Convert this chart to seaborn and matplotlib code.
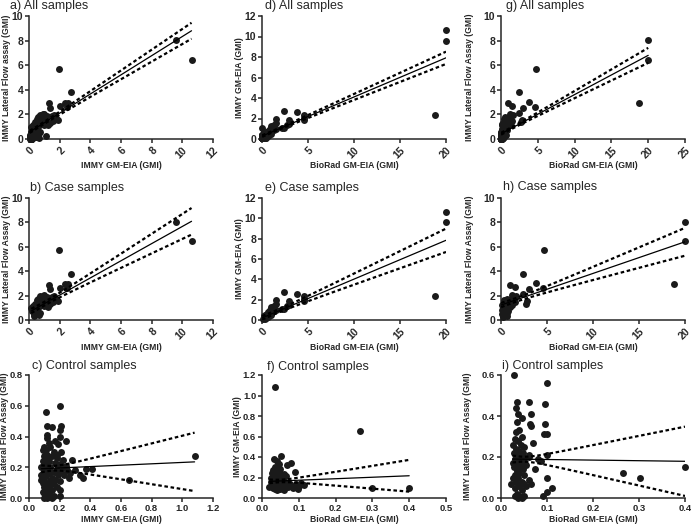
import numpy as np
import pandas as pd
import seaborn as sns
import matplotlib
matplotlib.use("Agg")
import matplotlib.pyplot as plt

# ---------------- data ----------------
# Case samples: IMMY GM-EIA (x) vs IMMY LFA (y)   -> panel b
case_immy_b = [9.6, 10.6, 1.95, 2.75, 1.3, 2.35, 2.55, 2.0, 1.4, 2.45,
               1.9, 1.5, 1.6, 1.2, 1.0, 0.9, 0.8, 0.7, 0.6, 1.35,
               1.25, 1.1, 0.9, 0.75, 0.55, 0.5, 0.45, 0.4, 0.35, 0.3,
               0.25, 0.3, 0.2, 0.15, 0.2, 0.35, 0.4, 0.5, 0.6, 0.7,
               0.65, 0.3, 0.4, 0.55, 0.8, 1.0, 0.25, 0.5, 1.55, 1.75]
case_lfa_b = [8.05, 6.45, 5.7, 3.8, 2.9, 2.95, 2.95, 2.65, 2.55, 2.6,
              1.55, 1.85, 1.95, 1.9, 2.05, 2.0, 1.9, 1.95, 1.75, 1.3,
              1.1, 1.6, 1.5, 1.45, 1.6, 1.3, 1.2, 1.35, 1.1, 0.9,
              0.8, 0.6, 0.7, 0.95, 1.0, 0.5, 0.7, 0.9, 1.0, 0.6,
              0.45, 0.3, 0.4, 0.75, 1.2, 1.15, 1.15, 0.55, 1.5, 1.7]

# Case samples: BioRad GM-EIA (x) vs IMMY GM-EIA (y) -> panel e
case_biorad_e = [20, 20, 18.8, 2.4, 3.8, 4.6, 4.6, 4.6, 2.9, 2.9,
                 2.7, 2.4, 2.2, 1.5, 1.5, 1.3, 1.0, 1.2, 1.1, 1.5,
                 0.8, 0.9, 0.6, 0.5, 0.4, 0.3, 0.2, 0.3, 0.5, 0.7,
                 0.4, 0.15, 0.25, 0.6, 0.8, 0.35, 1.0, 0.45, 0.2, 0.7,
                 1.3, 0.9]
case_immy_e = [10.6, 9.6, 2.35, 2.75, 2.6, 2.35, 2.05, 1.9, 1.9, 1.5,
               1.4, 1.1, 1.05, 2.0, 1.6, 1.4, 1.3, 1.2, 0.85, 0.95,
               0.75, 0.6, 0.5, 0.35, 0.3, 0.25, 0.2, 0.5, 0.6, 0.4,
               0.15, 0.1, 0.4, 0.3, 0.35, 0.05, 0.45, 0.5, 0.35, 0.8,
               0.9, 1.0]

# Case samples: BioRad GM-EIA (x) vs IMMY LFA (y) -> panel h
case_biorad_h = [20, 20, 18.8, 4.7, 2.4, 3.8, 4.6, 1.0, 1.5, 2.4,
                 3.0, 2.8, 2.7, 1.2, 1.4, 1.6, 1.5, 1.1, 0.6, 0.9,
                 0.8, 1.0, 0.5, 0.3, 0.2, 0.1, 0.3, 0.5, 0.7, 0.2,
                 0.4, 0.6, 0.1, 0.3, 0.7, 0.15, 0.5, 0.35, 0.25, 0.8,
                 1.2]
case_lfa_h = [8.05, 6.45, 2.95, 5.7, 3.8, 3.0, 2.6, 2.9, 2.7, 2.1,
              2.55, 1.55, 1.35, 2.05, 1.9, 1.95, 1.45, 1.7, 1.75, 1.6,
              1.35, 1.05, 1.2, 1.3, 1.1, 1.25, 0.95, 0.8, 1.0, 0.7,
              0.55, 0.6, 0.5, 0.4, 0.3, 0.85, 1.5, 1.65, 0.25, 0.75,
              1.25]

# Control samples: IMMY GM-EIA (x) vs IMMY LFA (y) -> panel c
ctrl_immy_c = [0.11, 0.115, 0.15, 0.2, 0.21, 0.2, 0.115, 0.12, 0.2, 0.17,
               0.24, 0.13, 0.1, 0.14, 0.19, 0.11, 0.09, 0.16, 0.21, 0.12,
               0.15, 0.1, 0.18, 0.22, 0.28, 0.09, 0.13, 0.17, 0.11, 0.2,
               0.24, 0.08, 0.14, 0.12, 0.18, 0.1, 0.16, 0.21, 0.25, 0.3,
               0.37, 0.41, 0.09, 0.13, 0.08, 0.19, 0.23, 0.27, 0.33, 0.11,
               0.15, 0.26, 0.35, 0.1, 0.14, 0.17, 0.2, 0.65, 0.09, 0.12,
               0.16, 0.13, 0.1, 0.18, 0.11, 0.15, 0.09, 0.12, 0.2, 0.1,
               0.14, 0.11, 0.13, 0.16, 0.2, 0.12, 0.15, 0.1, 1.08, 0.22,
               0.18, 0.1, 0.08, 0.12, 0.14]
ctrl_lfa_c = [0.56, 0.47, 0.46, 0.6, 0.47, 0.44, 0.41, 0.39, 0.40, 0.37,
              0.37, 0.36, 0.33, 0.33, 0.35, 0.31, 0.31, 0.30, 0.30, 0.28,
              0.27, 0.27, 0.26, 0.25, 0.25, 0.24, 0.24, 0.23, 0.22, 0.22,
              0.21, 0.2, 0.2, 0.19, 0.19, 0.18, 0.17, 0.17, 0.18, 0.18,
              0.19, 0.19, 0.16, 0.16, 0.15, 0.15, 0.15, 0.16, 0.15, 0.14,
              0.13, 0.13, 0.13, 0.12, 0.11, 0.12, 0.11, 0.12, 0.1, 0.09,
              0.09, 0.08, 0.07, 0.07, 0.06, 0.05, 0.04, 0.04, 0.05, 0.03,
              0.02, 0.01, 0.01, 0.01, 0.01, 0.0, 0.0, 0.0, 0.27, 0.2,
              0.28, 0.22, 0.12, 0.25, 0.17]

# Control samples: BioRad GM-EIA (x) vs IMMY GM-EIA (y) -> panel f
ctrl_biorad_f = [0.035, 0.265, 0.3, 0.4, 0.052, 0.033, 0.04, 0.078, 0.068, 0.045,
                 0.09, 0.05, 0.036, 0.03, 0.045, 0.04, 0.06, 0.03, 0.05, 0.035,
                 0.025, 0.042, 0.055, 0.065, 0.03, 0.04, 0.048, 0.035, 0.025, 0.06,
                 0.07, 0.045, 0.03, 0.04, 0.055, 0.025, 0.035, 0.05, 0.065, 0.03,
                 0.045, 0.02, 0.04, 0.055, 0.035, 0.05, 0.04, 0.06, 0.03, 0.075,
                 0.093, 0.107, 0.098, 0.085, 0.1, 0.115, 0.09, 0.07, 0.08, 0.028,
                 0.038, 0.045, 0.058, 0.033, 0.05]
ctrl_immy_f = [1.08, 0.65, 0.1, 0.1, 0.41, 0.38, 0.36, 0.34, 0.32, 0.33,
               0.25, 0.28, 0.3, 0.27, 0.26, 0.24, 0.23, 0.22, 0.22, 0.21,
               0.2, 0.2, 0.19, 0.21, 0.19, 0.18, 0.17, 0.17, 0.16, 0.16,
               0.15, 0.15, 0.14, 0.14, 0.13, 0.12, 0.12, 0.12, 0.12, 0.11,
               0.11, 0.11, 0.1, 0.1, 0.09, 0.09, 0.08, 0.08, 0.1, 0.14,
               0.14, 0.15, 0.09, 0.1, 0.12, 0.13, 0.11, 0.11, 0.12, 0.24,
               0.25, 0.19, 0.17, 0.15, 0.14]

# Control samples: BioRad GM-EIA (x) vs IMMY LFA (y) -> panel i
ctrl_biorad_i = [0.028, 0.099, 0.035, 0.06, 0.095, 0.032, 0.038, 0.065, 0.045, 0.035,
                 0.062, 0.095, 0.066, 0.04, 0.033, 0.093, 0.1, 0.045, 0.03, 0.038,
                 0.07, 0.025, 0.043, 0.05, 0.033, 0.04, 0.028, 0.048, 0.1, 0.035,
                 0.06, 0.042, 0.03, 0.08, 0.05, 0.038, 0.086, 0.025, 0.045, 0.032,
                 0.055, 0.04, 0.028, 0.073, 0.048, 0.035, 0.04, 0.03, 0.05, 0.025,
                 0.1, 0.038, 0.06, 0.045, 0.033, 0.022, 0.05, 0.04, 0.065, 0.03,
                 0.11, 0.045, 0.1, 0.035, 0.04, 0.03, 0.05, 0.092, 0.036, 0.045,
                 0.266, 0.302, 0.4, 0.055, 0.06]
ctrl_lfa_i = [0.6, 0.56, 0.47, 0.47, 0.46, 0.44, 0.41, 0.41, 0.39, 0.37,
              0.36, 0.36, 0.35, 0.33, 0.32, 0.31, 0.31, 0.3, 0.29, 0.28,
              0.27, 0.26, 0.26, 0.25, 0.24, 0.23, 0.22, 0.22, 0.21, 0.21,
              0.2, 0.2, 0.19, 0.19, 0.19, 0.18, 0.18, 0.17, 0.17, 0.16,
              0.16, 0.15, 0.15, 0.14, 0.14, 0.13, 0.12, 0.11, 0.11, 0.1,
              0.1, 0.1, 0.09, 0.08, 0.08, 0.07, 0.07, 0.06, 0.07, 0.05,
              0.05, 0.04, 0.03, 0.02, 0.01, 0.01, 0.01, 0.01, 0.0, 0.0,
              0.12, 0.1, 0.15, 0.06, 0.21]

# Linear regression lines: x range, line y at both ends,
# x of narrowest band, band half-width there and at the right end
fit_a = dict(x=(0.05, 10.6), y=(0.58, 8.8), xbar=0.6, h_mid=0.08, h_end=0.65)
fit_b = dict(x=(0.15, 10.6), y=(0.74, 8.09), xbar=1.0, h_mid=0.15, h_end=1.09)
fit_c = dict(x=(0.08, 1.08), y=(0.19, 0.235), xbar=0.16, h_mid=0.015, h_end=0.19)
fit_d = dict(x=(0.02, 20.0), y=(0.29, 7.92), xbar=1.0, h_mid=0.07, h_end=0.6)
fit_e = dict(x=(0.02, 20.0), y=(0.21, 7.84), xbar=1.5, h_mid=0.15, h_end=1.15)
fit_f = dict(x=(0.02, 0.4), y=(0.162, 0.217), xbar=0.05, h_mid=0.012, h_end=0.155)
fit_g = dict(x=(0.02, 20.0), y=(0.43, 6.8), xbar=1.2, h_mid=0.07, h_end=0.61)
fit_h = dict(x=(0.02, 20.0), y=(1.23, 6.41), xbar=1.5, h_mid=0.15, h_end=1.14)
fit_i = dict(x=(0.025, 0.4), y=(0.19, 0.179), xbar=0.05, h_mid=0.012, h_end=0.169)

titles = ["a) All samples", "b) Case samples", "c) Control samples",
          "d) All samples", "e) Case samples", "f) Control samples",
          "g) All samples", "h) Case samples", "i) Control samples"]
lbl_immy = "IMMY GM-EIA (GMI)"
lbl_biorad = "BioRad GM-EIA (GMI)"
lbl_lfa = "IMMY Lateral Flow Assay (GMI)"
lbl_lfa_a = "IMMY Lateral Flow assay (GMI)"

# ---------------- style ----------------
sns.set_theme(style="ticks")
plt.rcParams["font.family"] = ["Liberation Sans", "DejaVu Sans"]
plt.rcParams["axes.linewidth"] = 1.1
plt.rcParams["xtick.major.width"] = 1.1
plt.rcParams["ytick.major.width"] = 1.1
plt.rcParams["xtick.major.size"] = 3
plt.rcParams["ytick.major.size"] = 3
plt.rcParams["xtick.major.pad"] = 1.5
plt.rcParams["ytick.major.pad"] = 1.2

W, H = 691, 526
fig = plt.figure(figsize=(W / 100, H / 100), dpi=100)

col_px = [(29, 213), (262, 446), (501, 685)]
row_px = [(16, 139), (198, 320), (375, 498)]
ylab_x_px = [[7, 7, 5], [240, 240, 237], [469, 469, 467]]
xlab_y_px = [166, 348, 520]
tick_fs = [7.5, 7.5, 6.8]

panels = [
    # col 0
    dict(x=case_immy_b + ctrl_immy_c, y=case_lfa_b + ctrl_lfa_c, fit=fit_a,
         xl=lbl_immy, yl=lbl_lfa_a, xlim=(0, 12), ylim=(0, 10),
         xt=np.arange(0, 13, 2), yt=np.arange(0, 11, 2), rot=True, fmt="{:g}", tx=10, ty=6),
    dict(x=case_immy_b, y=case_lfa_b, fit=fit_b,
         xl=lbl_immy, yl=lbl_lfa, xlim=(0, 12), ylim=(0, 10),
         xt=np.arange(0, 13, 2), yt=np.arange(0, 11, 2), rot=True, fmt="{:g}", tx=30, ty=188),
    dict(x=ctrl_immy_c, y=ctrl_lfa_c, fit=fit_c,
         xl=lbl_immy, yl=lbl_lfa, xlim=(0, 1.2), ylim=(0, 0.8),
         xt=np.arange(0, 1.21, 0.2), yt=np.arange(0, 0.81, 0.2), rot=False, fmt="{:.1f}", tx=32, ty=366),
    # col 1
    dict(x=case_biorad_e + ctrl_biorad_f, y=case_immy_e + ctrl_immy_f, fit=fit_d,
         xl=lbl_biorad, yl=lbl_immy, xlim=(0, 20), ylim=(0, 12),
         xt=np.arange(0, 21, 5), yt=np.arange(0, 13, 2), rot=True, fmt="{:g}", tx=265, ty=6),
    dict(x=case_biorad_e, y=case_immy_e, fit=fit_e,
         xl=lbl_biorad, yl=lbl_immy, xlim=(0, 20), ylim=(0, 12),
         xt=np.arange(0, 21, 5), yt=np.arange(0, 13, 2), rot=True, fmt="{:g}", tx=265, ty=188),
    dict(x=ctrl_biorad_f, y=ctrl_immy_f, fit=fit_f,
         xl=lbl_biorad, yl=lbl_immy, xlim=(0, 0.5), ylim=(0, 1.2),
         xt=np.arange(0, 0.51, 0.1), yt=np.arange(0, 1.21, 0.2), rot=False, fmt="{:.1f}", tx=267, ty=367),
    # col 2
    dict(x=case_biorad_h + ctrl_biorad_i, y=case_lfa_h + ctrl_lfa_i, fit=fit_g,
         xl=lbl_biorad, yl=lbl_lfa, xlim=(0, 25), ylim=(0, 10),
         xt=np.arange(0, 26, 5), yt=np.arange(0, 11, 2), rot=True, fmt="{:g}", tx=506, ty=6),
    dict(x=case_biorad_h, y=case_lfa_h, fit=fit_h,
         xl=lbl_biorad, yl=lbl_lfa, xlim=(0, 20), ylim=(0, 10),
         xt=np.arange(0, 21, 5), yt=np.arange(0, 11, 2), rot=True, fmt="{:g}", tx=503, ty=187),
    dict(x=ctrl_biorad_i, y=ctrl_lfa_i, fit=fit_i,
         xl=lbl_biorad, yl=lbl_lfa, xlim=(0, 0.4), ylim=(0, 0.6),
         xt=np.arange(0, 0.41, 0.1), yt=np.arange(0, 0.61, 0.2), rot=False, fmt="{:.1f}", tx=502, ty=366),
]

for k, p in enumerate(panels):
    c, r = divmod(k, 3)
    x0, x1 = col_px[c]
    y0, y1 = row_px[r]
    aw, ah = x1 - x0, y1 - y0
    ax = fig.add_axes([x0 / W, 1 - y1 / H, aw / W, ah / H])
    df = pd.DataFrame({"x": p["x"], "y": p["y"]})
    sns.scatterplot(data=df, x="x", y="y", ax=ax, color="#1a1a1a", s=25,
                    linewidth=0, clip_on=False, zorder=3)
    f = p["fit"]
    xs = np.linspace(f["x"][0], f["x"][1], 200)
    slope = (f["y"][1] - f["y"][0]) / (f["x"][1] - f["x"][0])
    ys = f["y"][0] + slope * (xs - f["x"][0])
    k2 = (f["h_end"] ** 2 - f["h_mid"] ** 2) / (f["x"][1] - f["xbar"]) ** 2
    hw = np.sqrt(f["h_mid"] ** 2 + k2 * (xs - f["xbar"]) ** 2)
    ax.plot(xs, ys, color="black", lw=0.9, zorder=4)
    ax.plot(xs, ys + hw, color="black", lw=1.6, ls=(0, (1.6, 1.2)), zorder=4)
    ax.plot(xs, ys - hw, color="black", lw=1.6, ls=(0, (1.6, 1.2)), zorder=4)

    ax.set_xlim(*p["xlim"])
    ax.set_ylim(*p["ylim"])
    ax.set_xticks(p["xt"])
    ax.set_yticks(p["yt"])
    ax.set_xticklabels([p["fmt"].format(v) for v in p["xt"]], fontsize=tick_fs[r], fontweight="bold")
    ax.set_yticklabels([p["fmt"].format(v) for v in p["yt"]], fontsize=tick_fs[r], fontweight="bold")
    if p["rot"]:
        plt.setp(ax.get_xticklabels(), rotation=45, ha="right", rotation_mode="anchor")
    ax.set_xlabel(p["xl"], fontsize=6.2, fontweight="bold")
    ax.set_ylabel(p["yl"], fontsize=6.2, fontweight="bold")
    ax.xaxis.label.set_va("center")
    ax.yaxis.label.set_va("center")
    ax.xaxis.set_label_coords(0.5, (y1 - xlab_y_px[r]) / ah)
    ax.yaxis.set_label_coords((ylab_x_px[c][r] - x0) / aw, 0.5)
    sns.despine(ax=ax)
    fig.text(p["tx"] / W, 1 - p["ty"] / H, titles[k], fontsize=9, ha="left", va="center")

fig.savefig("out.png", dpi=100)
